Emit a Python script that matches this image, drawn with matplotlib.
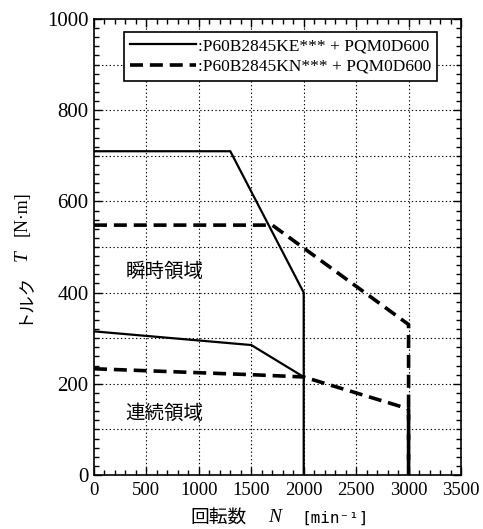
import numpy as np
import matplotlib.pyplot as plt
from matplotlib.ticker import MultipleLocator

plt.rcParams['font.family'] = ['Liberation Serif', 'Noto Sans CJK JP']

# 瞬時領域 / 連続領域 (rpm, N·m)
ke_peak_n = [0, 1300, 2000, 2000]
ke_peak_t = [710, 710, 400, 0]
ke_cont_n = [0, 1500, 2000]
ke_cont_t = [315, 285, 215]

kn_peak_n = [0, 1700, 3000, 3000]
kn_peak_t = [548, 548, 330, 0]
kn_cont_n = [0, 1500, 2000, 3000, 3000]
kn_cont_t = [233, 220, 215, 145, 0]

labels = [':P60B2845KE*** + PQM0D600', ':P60B2845KN*** + PQM0D600']

W, H = 483, 529
fig = plt.figure(figsize=(W / 100, H / 100), dpi=100)
ax = fig.add_axes([94 / W, 1 - 475 / H, 367 / W, 456 / H])


def px(x, y):
    # pixel position (from top-left) -> figure fraction
    return x / W, 1 - y / H


ax.plot(ke_peak_n, ke_peak_t, color='black', lw=1.6, label=labels[0])
ax.plot(ke_cont_n, ke_cont_t, color='black', lw=1.6)
ax.plot(kn_peak_n, kn_peak_t, color='black', lw=2.6, ls=(0, (3.6, 1.9)), label=labels[1])
ax.plot(kn_cont_n, kn_cont_t, color='black', lw=2.6, ls=(0, (3.6, 1.9)))

ax.set_xlim(0, 3500)
ax.set_ylim(0, 1000)
ax.xaxis.set_major_locator(MultipleLocator(500))
ax.xaxis.set_minor_locator(MultipleLocator(100))
ax.yaxis.set_major_locator(MultipleLocator(200))
ax.yaxis.set_minor_locator(MultipleLocator(20))
ax.tick_params(which='both', direction='in', top=True, right=True)
ax.tick_params(axis='x', labelsize=13.5, pad=5)
ax.tick_params(axis='y', labelsize=15, pad=4)
ax.tick_params(which='major', length=6, width=1)
ax.tick_params(which='minor', length=3.5, width=1)
for s in ax.spines.values():
    s.set_linewidth(1.2)

# grid every 500 rpm / 100 N·m
for gx in np.arange(500, 3500, 500):
    ax.axvline(gx, color='black', lw=0.8, ls=(0, (1.2, 2.2)), zorder=0)
for gy in np.arange(100, 1000, 100):
    ax.axhline(gy, color='black', lw=0.8, ls=(0, (1.2, 2.2)), zorder=0)

ax.text(670, 447, '瞬時領域', family='Noto Sans CJK JP', fontsize=14, ha='center', va='center')
ax.text(670, 135, '連続領域', family='Noto Sans CJK JP', fontsize=14, ha='center', va='center')

# axis labels built from pieces (mixed fonts)
fig.text(*px(190, 518), '回転数', family='Noto Sans CJK JP', fontsize=13.5, ha='left', va='center')
fig.text(*px(268, 518), 'N', family='Liberation Serif', style='italic', fontsize=14, ha='left', va='center')
fig.text(*px(301, 518), '[min⁻¹]', family='DejaVu Sans Mono', fontsize=11.5, ha='left', va='center')

fig.text(*px(22, 298), 'トルク', family='Noto Sans CJK JP', fontsize=12.5, rotation=90, ha='center', va='center')
fig.text(*px(22, 256), 'T', family='Liberation Serif', style='italic', fontsize=14, rotation=90, ha='center', va='center')
fig.text(*px(22, 214), '[N·m]', family='Liberation Serif', fontsize=13, rotation=90, ha='center', va='center')

leg = ax.legend(loc='upper left', bbox_to_anchor=(30 / 367, 1 - 13 / 456), fontsize=12.5,
                frameon=True, fancybox=False, edgecolor='black', framealpha=1,
                handlelength=3.8, handletextpad=0.1, borderpad=0.35, labelspacing=0.25,
                borderaxespad=0)
leg.get_frame().set_linewidth(1.2)

fig.savefig('out.png', dpi=100)
